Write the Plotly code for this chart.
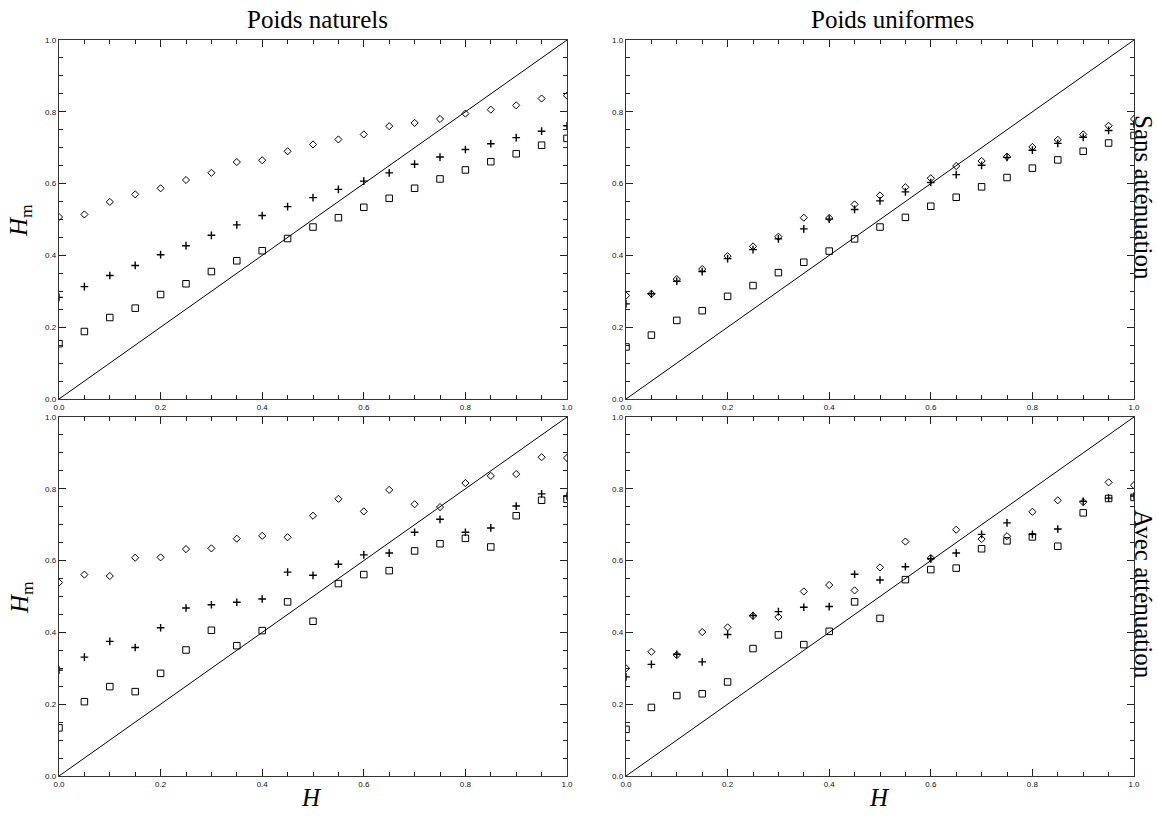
import plotly.graph_objects as go

H = [round(0.05 * i, 2) for i in range(21)]

# Top-left: Poids naturels, sans atténuation
tl_diamond = [0.507, 0.514, 0.549, 0.570, 0.587, 0.610, 0.630, 0.660, 0.665, 0.690, 0.709,
              0.723, 0.737, 0.760, 0.769, 0.780, 0.795, 0.806, 0.818, 0.837, 0.845]
tl_plus = [0.283, 0.313, 0.344, 0.372, 0.402, 0.427, 0.456, 0.485, 0.511, 0.536, 0.561,
           0.584, 0.607, 0.630, 0.654, 0.674, 0.695, 0.711, 0.728, 0.746, 0.761]
tl_square = [0.154, 0.188, 0.227, 0.253, 0.291, 0.321, 0.355, 0.385, 0.413, 0.447, 0.479,
             0.505, 0.534, 0.559, 0.587, 0.613, 0.638, 0.661, 0.683, 0.707, 0.726]

# Top-right: Poids uniformes, sans atténuation
tr_diamond = [0.288, 0.293, 0.334, 0.362, 0.398, 0.425, 0.452, 0.505, 0.504, 0.542, 0.567,
              0.590, 0.615, 0.649, 0.663, 0.675, 0.702, 0.722, 0.737, 0.761, 0.780]
tr_plus = [0.265, 0.293, 0.328, 0.355, 0.391, 0.416, 0.446, 0.474, 0.501, 0.528, 0.552,
           0.577, 0.603, 0.625, 0.651, 0.673, 0.693, 0.712, 0.729, 0.748, 0.766]
tr_square = [0.145, 0.178, 0.219, 0.246, 0.286, 0.316, 0.352, 0.381, 0.412, 0.446, 0.479,
             0.506, 0.537, 0.562, 0.591, 0.617, 0.643, 0.666, 0.690, 0.713, 0.734]

# Bottom-left: Poids naturels, avec atténuation
bl_diamond = [0.539, 0.561, 0.557, 0.608, 0.609, 0.632, 0.634, 0.661, 0.669, 0.665, 0.725,
              0.772, 0.737, 0.797, 0.757, 0.749, 0.816, 0.836, 0.841, 0.888, 0.886]
bl_plus = [0.295, 0.331, 0.375, 0.358, 0.413, 0.468, 0.477, 0.484, 0.493, 0.568, 0.559,
           0.590, 0.616, 0.621, 0.679, 0.715, 0.679, 0.691, 0.752, 0.786, 0.780]
bl_square = [0.134, 0.207, 0.249, 0.235, 0.286, 0.351, 0.406, 0.363, 0.405, 0.485, 0.431,
             0.536, 0.561, 0.572, 0.627, 0.647, 0.662, 0.638, 0.725, 0.768, 0.771]

# Bottom-right: Poids uniformes, avec atténuation
br_diamond = [0.300, 0.346, 0.337, 0.401, 0.414, 0.446, 0.443, 0.514, 0.532, 0.517, 0.581,
              0.653, 0.607, 0.686, 0.660, 0.668, 0.736, 0.768, 0.763, 0.818, 0.810]
br_plus = [0.276, 0.311, 0.339, 0.318, 0.394, 0.447, 0.458, 0.470, 0.472, 0.562, 0.546,
           0.583, 0.605, 0.621, 0.673, 0.705, 0.673, 0.688, 0.765, 0.774, 0.780]
br_square = [0.130, 0.191, 0.224, 0.229, 0.262, 0.355, 0.393, 0.366, 0.403, 0.485, 0.439,
             0.547, 0.575, 0.579, 0.633, 0.655, 0.666, 0.640, 0.733, 0.773, 0.776]

col_titles = ["Poids naturels", "Poids uniformes"]
row_titles = ["Sans atténuation", "Avec atténuation"]
tick_vals = [0.0, 0.2, 0.4, 0.6, 0.8, 1.0]
tick_text = ["0.0", "0.2", "0.4", "0.6", "0.8", "1.0"]

W, Hh = 1157, 816

def px(x):
    return x / W

def py(y):
    return 1 - y / Hh

panels = [
    ("x", "y", tl_diamond, tl_plus, tl_square, (59, 567), (40, 399)),
    ("x2", "y2", tr_diamond, tr_plus, tr_square, (626, 1134), (40, 399)),
    ("x3", "y3", bl_diamond, bl_plus, bl_square, (59, 567), (417, 776)),
    ("x4", "y4", br_diamond, br_plus, br_square, (626, 1134), (417, 776)),
]

fig = go.Figure()
layout = {}
for i, (xa, ya, d, p, s, xr, yr) in enumerate(panels):
    fig.add_trace(go.Scatter(x=[0, 1], y=[0, 1], mode="lines", xaxis=xa, yaxis=ya,
                             line=dict(color="black", width=1), showlegend=False))
    fig.add_trace(go.Scatter(x=H, y=d, mode="markers", xaxis=xa, yaxis=ya, showlegend=False,
                             marker=dict(symbol="diamond-open", size=5.5, color="black",
                                         line=dict(width=1, color="black"))))
    fig.add_trace(go.Scatter(x=H, y=p, mode="markers", xaxis=xa, yaxis=ya, showlegend=False,
                             marker=dict(symbol="cross-thin-open", size=5.5, color="black",
                                         line=dict(width=1.4, color="black"))))
    fig.add_trace(go.Scatter(x=H, y=s, mode="markers", xaxis=xa, yaxis=ya, showlegend=False,
                             marker=dict(symbol="square-open", size=6.5, color="black",
                                         line=dict(width=1, color="black"))))
    axcommon = dict(range=[0, 1], showgrid=False, zeroline=False, showline=True,
                    linecolor="#333", linewidth=1.3, mirror="allticks", automargin=False,
                    ticks="inside", ticklen=7, tickwidth=1, tickcolor="#222",
                    tickvals=tick_vals, ticktext=tick_text,
                    tickfont=dict(family="Liberation Sans, Arial", size=8, color="#111"),
                    minor=dict(ticks="inside", ticklen=4, tickwidth=1, tickcolor="#222",
                               dtick=0.05, tick0=0, showgrid=False))
    xkey = "xaxis" if xa == "x" else "xaxis" + xa[1:]
    ykey = "yaxis" if ya == "y" else "yaxis" + ya[1:]
    layout[xkey] = dict(axcommon, domain=[px(xr[0]), px(xr[1])], anchor=ya)
    layout[ykey] = dict(axcommon, domain=[py(yr[1]), py(yr[0])], anchor=xa)

fig.update_layout(**layout)

serif = "Liberation Serif, Times New Roman, serif"
ann = []
for j, t in enumerate(col_titles):
    cx = 317 if j == 0 else 892
    ann.append(dict(text=t, x=px(cx), y=py(19), xref="paper", yref="paper",
                    xanchor="center", yanchor="middle",
                    showarrow=False, font=dict(family=serif, size=25, color="black")))
for j, t in enumerate(row_titles):
    cy = 197 if j == 0 else 594
    ann.append(dict(text=t, x=px(1144), y=py(cy), xref="paper", yref="paper", textangle=90,
                    xanchor="center", yanchor="middle",
                    showarrow=False, font=dict(family=serif, size=25, color="black")))
for cy in (221, 598):
    ann.append(dict(text="<i>H</i><sub>m</sub>", x=px(21), y=py(cy), xref="paper",
                    yref="paper", textangle=-90, showarrow=False,
                    xanchor="center", yanchor="middle",
                    font=dict(family=serif, size=25, color="black")))
for cx in (311, 879):
    ann.append(dict(text="<i>H</i>", x=px(cx), y=py(797), xref="paper", yref="paper",
                    xanchor="center", yanchor="middle",
                    showarrow=False, font=dict(family=serif, size=25, color="black")))

fig.update_layout(annotations=ann, width=W, height=Hh, margin=dict(l=0, r=0, t=0, b=0),
                  paper_bgcolor="white", plot_bgcolor="white", showlegend=False,
                  hovermode=False)

fig.write_html("out.html", config={"displayModeBar": False, "staticPlot": True},
               post_script="document.body.style.margin='0';document.body.style.overflow='hidden';")
